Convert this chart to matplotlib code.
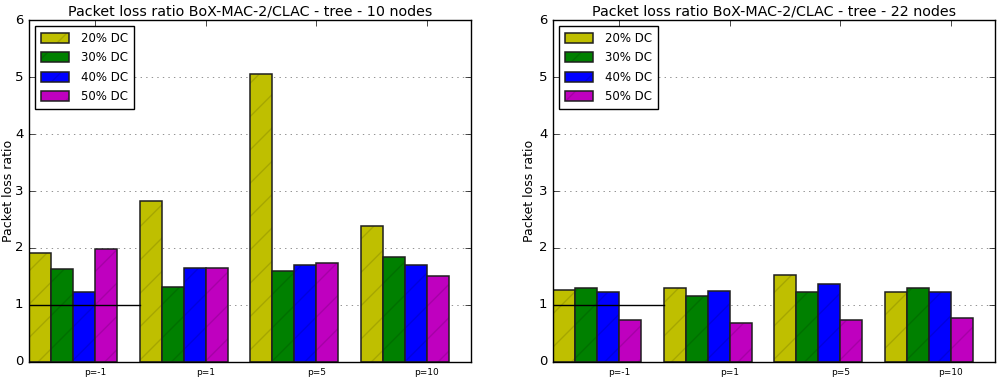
import numpy as np
import matplotlib
matplotlib.use("Agg")
import matplotlib.pyplot as plt
from matplotlib.legend_handler import HandlerTuple

plt.style.use("classic")

# --- data ---
groups = ["p=-1", "p=1", "p=5", "p=10"]
dc_labels = ["20% DC", "30% DC", "40% DC", "50% DC"]
colors = ["y", "g", "b", "m"]

loss_10 = [
    [1.91, 2.83, 5.06, 2.39],   # 20% DC
    [1.63, 1.32, 1.60, 1.85],   # 30% DC
    [1.22, 1.65, 1.71, 1.71],   # 40% DC
    [1.98, 1.65, 1.73, 1.51],   # 50% DC
]
loss_22 = [
    [1.27, 1.29, 1.53, 1.23],
    [1.30, 1.15, 1.23, 1.29],
    [1.22, 1.24, 1.36, 1.23],
    [0.73, 0.69, 0.74, 0.77],
]
titles = ["Packet loss ratio BoX-MAC-2/CLAC - tree - 10 nodes",
          "Packet loss ratio BoX-MAC-2/CLAC - tree - 22 nodes"]

width = 0.2
ind = np.arange(len(groups))

fig = plt.figure(figsize=(10, 3.79), dpi=100, facecolor="white")
axes = [fig.add_axes([0.029, 0.045, 0.442, 0.902]),
        fig.add_axes([0.553, 0.045, 0.442, 0.902])]
label_x = [-0.031, -0.039]

for ax, data, title, lx in zip(axes, [loss_10, loss_22], titles, label_x):
    handles = []
    for k, (vals, c) in enumerate(zip(data, colors)):
        # hatched fill with a faint hatch, then a dark outline on top
        hb = ax.bar(ind + k * width, vals, width, align="edge", color=c,
                    hatch="/", edgecolor=(0, 0, 0, 0.13), linewidth=0)
        ob = ax.bar(ind + k * width, vals, width, align="edge", fill=False,
                    edgecolor=(0.12, 0.12, 0.12), linewidth=1.1)
        handles.append((hb, ob))
    ax.plot([0, 1], [1, 1], "k-", linewidth=1.0)
    ax.set_xlim(0, 4)
    ax.set_ylim(0, 6)
    ax.set_xticks(ind + 3 * width)
    ax.set_xticklabels(groups, fontsize=6.5)
    ax.tick_params(axis="y", labelsize=9.5)
    ax.yaxis.grid(True, linestyle=":", color="gray", linewidth=0.6)
    ax.set_axisbelow(True)
    ax.set_ylabel("Packet loss ratio", fontsize=9)
    ax.yaxis.set_label_coords(lx, 0.5)
    ax.set_title(title, fontsize=10.3, pad=3)
    ax.legend(handles, dc_labels, loc="upper left", fontsize=8.5,
              handler_map={tuple: HandlerTuple(ndivide=1, pad=0)},
              handlelength=2.4, handleheight=0.9, labelspacing=0.55,
              borderpad=0.5, handletextpad=1.0)

fig.savefig("out.png", dpi=100, facecolor="white")
